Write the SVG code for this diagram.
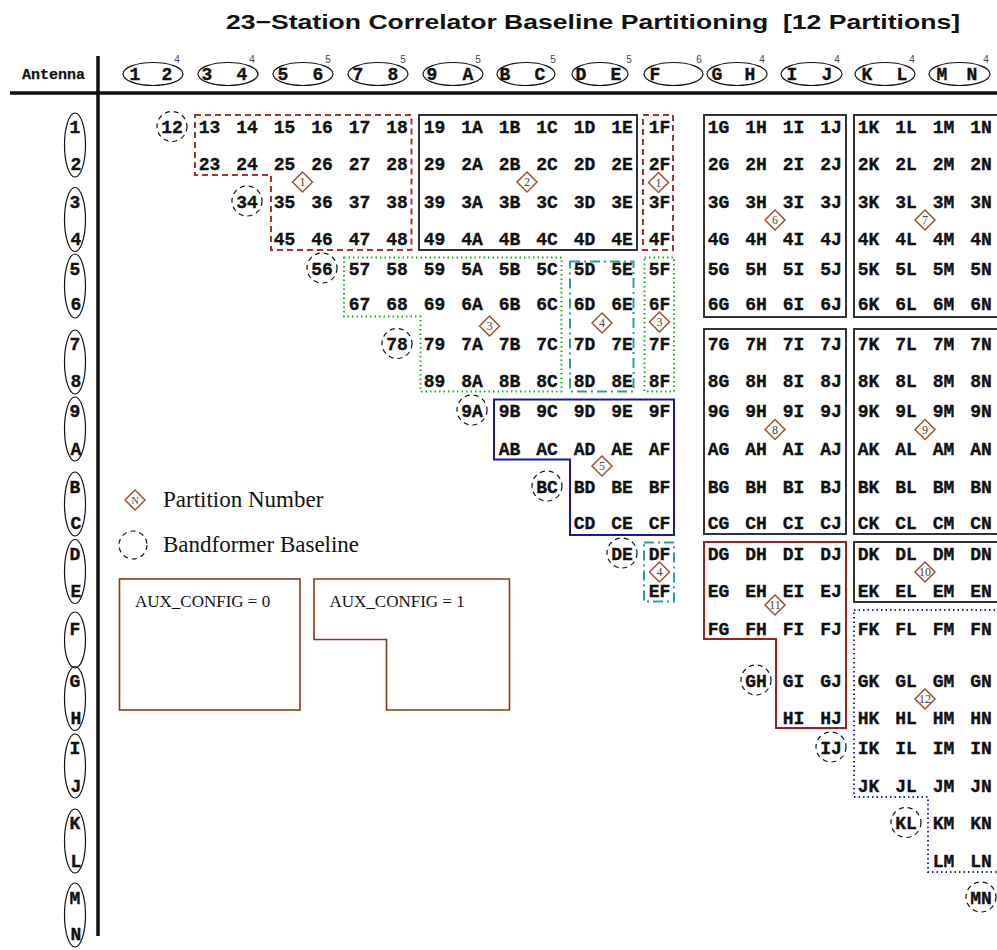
<svg xmlns="http://www.w3.org/2000/svg" xmlns:xlink="http://www.w3.org/1999/xlink" width="997" height="950" viewBox="0 0 997 950">
<style>
text{font-family:"Liberation Mono","Courier New",monospace;font-weight:bold;font-size:18px;fill:#111;stroke:#111;stroke-width:0.35}
.c text,text.c{text-anchor:middle}
.sup{font-family:"Liberation Sans",Arial,sans-serif;font-weight:normal;font-size:10px;fill:#444;stroke:none}
.ser{font-family:"Liberation Serif","Times New Roman",serif;font-weight:normal;fill:#111;stroke:none}
.dn{font-family:"Liberation Serif","Times New Roman",serif;font-weight:normal;font-size:12px;fill:#444;stroke:none;text-anchor:middle}
.el{fill:none;stroke:#111;stroke-width:1.2}
.bf{fill:none;stroke:#111;stroke-width:1.2;stroke-dasharray:5 4}
.dm{fill:#fff;stroke:#a0522d;stroke-width:1.5}
.p-red{fill:none;stroke:#a83232;stroke-width:2;stroke-dasharray:6 4}
.p-blk{fill:none;stroke:#333;stroke-width:2}
.p-grn{fill:none;stroke:#22aa22;stroke-width:2;stroke-dasharray:1.5 3}
.p-teal{fill:none;stroke:#2a9d9d;stroke-width:2;stroke-dasharray:10 4 2 4}
.p-navy{fill:none;stroke:#1a1a99;stroke-width:2}
.p-dred{fill:none;stroke:#9b2020;stroke-width:2}
.p-blue{fill:none;stroke:#2222cc;stroke-width:2;stroke-dasharray:1.5 3}
.aux{fill:none;stroke:#8b3a0f;stroke-width:1.6}
</style>
<defs>
<path id="dia" d="M0,-10L10,0L0,10L-10,0Z" class="dm"/>
</defs>
<rect width="997" height="950" fill="#fff"/>
<text x="226" y="29" textLength="734" lengthAdjust="spacingAndGlyphs" style="font-family:'Liberation Sans',Arial,sans-serif;font-size:21px;font-weight:bold;stroke:none">23−Station Correlator Baseline Partitioning &#160;[12 Partitions]</text>

<g id="axes">
<line x1="10" y1="93" x2="997" y2="93" stroke="#111" stroke-width="3.5"/>
<line x1="98" y1="56" x2="98" y2="936" stroke="#111" stroke-width="3.5"/>
<text x="22" y="79" style="font-size:15px;stroke-width:0.25">Antenna</text>
</g>

<g id="header" class="c">
<ellipse class="el" cx="153" cy="74" rx="30" ry="11.5"/><text x="135" y="80">1</text><text x="167" y="80">2</text><text class="sup" x="177" y="63">4</text>
<ellipse class="el" cx="228" cy="74" rx="30" ry="11.5"/><text x="207" y="80">3</text><text x="242" y="80">4</text><text class="sup" x="252" y="63">4</text>
<ellipse class="el" cx="303" cy="74" rx="30" ry="11.5"/><text x="283" y="80">5</text><text x="318" y="80">6</text><text class="sup" x="328" y="63">5</text>
<ellipse class="el" cx="378" cy="74" rx="30" ry="11.5"/><text x="358" y="80">7</text><text x="393" y="80">8</text><text class="sup" x="403" y="63">5</text>
<ellipse class="el" cx="453" cy="74" rx="30" ry="11.5"/><text x="432" y="80">9</text><text x="468" y="80">A</text><text class="sup" x="478" y="63">5</text>
<ellipse class="el" cx="526" cy="74" rx="29" ry="11.5"/><text x="505" y="80">B</text><text x="540" y="80">C</text><text class="sup" x="553" y="63">5</text>
<ellipse class="el" cx="600" cy="74" rx="28" ry="11.5"/><text x="581" y="80">D</text><text x="616" y="80">E</text><text class="sup" x="629" y="63">5</text>
<ellipse class="el" cx="673.5" cy="74" rx="29.5" ry="11.5"/><text x="655" y="80">F</text><text class="sup" x="699" y="63">6</text>
<ellipse class="el" cx="737" cy="74" rx="30" ry="11.5"/><text x="717" y="80">G</text><text x="750" y="80">H</text><text class="sup" x="762" y="63">4</text>
<ellipse class="el" cx="811.5" cy="74" rx="30.5" ry="11.5"/><text x="792" y="80">I</text><text x="827" y="80">J</text><text class="sup" x="837" y="63">4</text>
<ellipse class="el" cx="885" cy="74" rx="30" ry="11.5"/><text x="867" y="80">K</text><text x="902" y="80">L</text><text class="sup" x="912" y="63">4</text>
<ellipse class="el" cx="959.5" cy="74" rx="30.5" ry="11.5"/><text x="942" y="80">M</text><text x="972" y="80">N</text><text class="sup" x="986" y="63">4</text>
</g>

<g id="rowlabels" class="c">
<ellipse class="el" cx="75" cy="145" rx="10.5" ry="32"/><text x="75" y="133">1</text><text x="76" y="169.5">2</text>
<ellipse class="el" cx="75" cy="219.5" rx="10.5" ry="32"/><text x="75" y="207.5">3</text><text x="76" y="244.5">4</text>
<ellipse class="el" cx="75" cy="286" rx="10.5" ry="32"/><text x="75" y="274.5">5</text><text x="76" y="310">6</text>
<ellipse class="el" cx="75" cy="362" rx="10.5" ry="32"/><text x="75" y="350">7</text><text x="76" y="387">8</text>
<ellipse class="el" cx="75" cy="429" rx="10.5" ry="32"/><text x="75" y="416.5">9</text><text x="76" y="455">A</text>
<ellipse class="el" cx="75" cy="504" rx="10.5" ry="32"/><text x="75" y="492.5">B</text><text x="76" y="529">C</text>
<ellipse class="el" cx="75" cy="571.5" rx="10.5" ry="32"/><text x="75" y="559.5">D</text><text x="76" y="596.5">E</text>
<ellipse class="el" cx="75" cy="640" rx="10.5" ry="28"/><text x="75" y="634.5">F</text>
<ellipse class="el" cx="75" cy="698.5" rx="10.5" ry="32"/><text x="75" y="686.5">G</text><text x="76" y="723.5">H</text>
<ellipse class="el" cx="75" cy="766" rx="10.5" ry="32"/><text x="75" y="753.5">I</text><text x="76" y="791.5">J</text>
<ellipse class="el" cx="75" cy="841" rx="10.5" ry="32"/><text x="75" y="829">K</text><text x="76" y="866.5">L</text>
<ellipse class="el" cx="75" cy="915" rx="10.5" ry="32"/><text x="75" y="903.5">M</text><text x="76" y="939.5">N</text>
</g>

<g id="partitions">
<g id="partition-1"><path class="p-red" d="M195,115H411.5V250H271V175H195Z"/><rect class="p-red" x="643" y="115" width="30" height="135"/></g>
<g id="partition-2"><rect class="p-blk" x="419" y="115" width="218" height="135"/></g>
<g id="partition-3"><path class="p-grn" d="M344,257.5H561.5V391.5H420.5V316.5H344Z"/><rect class="p-grn" x="644.5" y="257.5" width="29.5" height="134"/></g>
<g id="partition-4"><rect class="p-teal" x="570" y="261.5" width="63.5" height="130"/><rect class="p-teal" x="644" y="542.5" width="30" height="59"/></g>
<g id="partition-5"><path class="p-navy" d="M494,399.5H674V535H570V459.5H494Z"/></g>
<g id="partition-6"><rect class="p-blk" x="704" y="115" width="142" height="202"/></g>
<g id="partition-7"><rect class="p-blk" x="854" y="115" width="144" height="202"/></g>
<g id="partition-8"><rect class="p-blk" x="704" y="329" width="142" height="205"/></g>
<g id="partition-9"><rect class="p-blk" x="854" y="329" width="144" height="205"/></g>
<g id="partition-10"><rect class="p-blk" x="854" y="542" width="144" height="60"/></g>
<g id="partition-11"><path class="p-dred" d="M704,542H846V728H776V639H704Z"/></g>
<g id="partition-12"><path class="p-blue" d="M854,610H999V872H928V797H854Z"/></g>
</g>

<g id="cells" class="c">
<g id="row-1" transform="translate(0,133)"><circle class="bf" cx="172" cy="-6.5" r="15"/><text x="172">12</text><text x="209.5">13</text><text x="247">14</text><text x="284.5">15</text><text x="322">16</text><text x="359.5">17</text><text x="397">18</text><text x="434.5">19</text><text x="472">1A</text><text x="509.5">1B</text><text x="547">1C</text><text x="584.5">1D</text><text x="622">1E</text><text x="659.5">1F</text><text x="718.5">1G</text><text x="756">1H</text><text x="793.5">1I</text><text x="831">1J</text><text x="868.5">1K</text><text x="906">1L</text><text x="943.5">1M</text><text x="981">1N</text></g>
<g id="row-2" transform="translate(0,169.5)"><text x="209.5">23</text><text x="247">24</text><text x="284.5">25</text><text x="322">26</text><text x="359.5">27</text><text x="397">28</text><text x="434.5">29</text><text x="472">2A</text><text x="509.5">2B</text><text x="547">2C</text><text x="584.5">2D</text><text x="622">2E</text><text x="659.5">2F</text><text x="718.5">2G</text><text x="756">2H</text><text x="793.5">2I</text><text x="831">2J</text><text x="868.5">2K</text><text x="906">2L</text><text x="943.5">2M</text><text x="981">2N</text></g>
<g id="row-3" transform="translate(0,207.5)"><circle class="bf" cx="247" cy="-6.5" r="15"/><text x="247">34</text><text x="284.5">35</text><text x="322">36</text><text x="359.5">37</text><text x="397">38</text><text x="434.5">39</text><text x="472">3A</text><text x="509.5">3B</text><text x="547">3C</text><text x="584.5">3D</text><text x="622">3E</text><text x="659.5">3F</text><text x="718.5">3G</text><text x="756">3H</text><text x="793.5">3I</text><text x="831">3J</text><text x="868.5">3K</text><text x="906">3L</text><text x="943.5">3M</text><text x="981">3N</text></g>
<g id="row-4" transform="translate(0,244.5)"><text x="284.5">45</text><text x="322">46</text><text x="359.5">47</text><text x="397">48</text><text x="434.5">49</text><text x="472">4A</text><text x="509.5">4B</text><text x="547">4C</text><text x="584.5">4D</text><text x="622">4E</text><text x="659.5">4F</text><text x="718.5">4G</text><text x="756">4H</text><text x="793.5">4I</text><text x="831">4J</text><text x="868.5">4K</text><text x="906">4L</text><text x="943.5">4M</text><text x="981">4N</text></g>
<g id="row-5" transform="translate(0,274.5)"><circle class="bf" cx="322" cy="-6.5" r="15"/><text x="322">56</text><text x="359.5">57</text><text x="397">58</text><text x="434.5">59</text><text x="472">5A</text><text x="509.5">5B</text><text x="547">5C</text><text x="584.5">5D</text><text x="622">5E</text><text x="659.5">5F</text><text x="718.5">5G</text><text x="756">5H</text><text x="793.5">5I</text><text x="831">5J</text><text x="868.5">5K</text><text x="906">5L</text><text x="943.5">5M</text><text x="981">5N</text></g>
<g id="row-6" transform="translate(0,310)"><text x="359.5">67</text><text x="397">68</text><text x="434.5">69</text><text x="472">6A</text><text x="509.5">6B</text><text x="547">6C</text><text x="584.5">6D</text><text x="622">6E</text><text x="659.5">6F</text><text x="718.5">6G</text><text x="756">6H</text><text x="793.5">6I</text><text x="831">6J</text><text x="868.5">6K</text><text x="906">6L</text><text x="943.5">6M</text><text x="981">6N</text></g>
<g id="row-7" transform="translate(0,350)"><circle class="bf" cx="397" cy="-6.5" r="15"/><text x="397">78</text><text x="434.5">79</text><text x="472">7A</text><text x="509.5">7B</text><text x="547">7C</text><text x="584.5">7D</text><text x="622">7E</text><text x="659.5">7F</text><text x="718.5">7G</text><text x="756">7H</text><text x="793.5">7I</text><text x="831">7J</text><text x="868.5">7K</text><text x="906">7L</text><text x="943.5">7M</text><text x="981">7N</text></g>
<g id="row-8" transform="translate(0,387)"><text x="434.5">89</text><text x="472">8A</text><text x="509.5">8B</text><text x="547">8C</text><text x="584.5">8D</text><text x="622">8E</text><text x="659.5">8F</text><text x="718.5">8G</text><text x="756">8H</text><text x="793.5">8I</text><text x="831">8J</text><text x="868.5">8K</text><text x="906">8L</text><text x="943.5">8M</text><text x="981">8N</text></g>
<g id="row-9" transform="translate(0,416.5)"><circle class="bf" cx="472" cy="-6.5" r="15"/><text x="472">9A</text><text x="509.5">9B</text><text x="547">9C</text><text x="584.5">9D</text><text x="622">9E</text><text x="659.5">9F</text><text x="718.5">9G</text><text x="756">9H</text><text x="793.5">9I</text><text x="831">9J</text><text x="868.5">9K</text><text x="906">9L</text><text x="943.5">9M</text><text x="981">9N</text></g>
<g id="row-A" transform="translate(0,455)"><text x="509.5">AB</text><text x="547">AC</text><text x="584.5">AD</text><text x="622">AE</text><text x="659.5">AF</text><text x="718.5">AG</text><text x="756">AH</text><text x="793.5">AI</text><text x="831">AJ</text><text x="868.5">AK</text><text x="906">AL</text><text x="943.5">AM</text><text x="981">AN</text></g>
<g id="row-B" transform="translate(0,492.5)"><circle class="bf" cx="547" cy="-6.5" r="15"/><text x="547">BC</text><text x="584.5">BD</text><text x="622">BE</text><text x="659.5">BF</text><text x="718.5">BG</text><text x="756">BH</text><text x="793.5">BI</text><text x="831">BJ</text><text x="868.5">BK</text><text x="906">BL</text><text x="943.5">BM</text><text x="981">BN</text></g>
<g id="row-C" transform="translate(0,529)"><text x="584.5">CD</text><text x="622">CE</text><text x="659.5">CF</text><text x="718.5">CG</text><text x="756">CH</text><text x="793.5">CI</text><text x="831">CJ</text><text x="868.5">CK</text><text x="906">CL</text><text x="943.5">CM</text><text x="981">CN</text></g>
<g id="row-D" transform="translate(0,559.5)"><circle class="bf" cx="622" cy="-6.5" r="15"/><text x="622">DE</text><text x="659.5">DF</text><text x="718.5">DG</text><text x="756">DH</text><text x="793.5">DI</text><text x="831">DJ</text><text x="868.5">DK</text><text x="906">DL</text><text x="943.5">DM</text><text x="981">DN</text></g>
<g id="row-E" transform="translate(0,596.5)"><text x="659.5">EF</text><text x="718.5">EG</text><text x="756">EH</text><text x="793.5">EI</text><text x="831">EJ</text><text x="868.5">EK</text><text x="906">EL</text><text x="943.5">EM</text><text x="981">EN</text></g>
<g id="row-F" transform="translate(0,634.5)"><text x="718.5">FG</text><text x="756">FH</text><text x="793.5">FI</text><text x="831">FJ</text><text x="868.5">FK</text><text x="906">FL</text><text x="943.5">FM</text><text x="981">FN</text></g>
<g id="row-G" transform="translate(0,686.5)"><circle class="bf" cx="756" cy="-6.5" r="15"/><text x="756">GH</text><text x="793.5">GI</text><text x="831">GJ</text><text x="868.5">GK</text><text x="906">GL</text><text x="943.5">GM</text><text x="981">GN</text></g>
<g id="row-H" transform="translate(0,723.5)"><text x="793.5">HI</text><text x="831">HJ</text><text x="868.5">HK</text><text x="906">HL</text><text x="943.5">HM</text><text x="981">HN</text></g>
<g id="row-I" transform="translate(0,753.5)"><circle class="bf" cx="831" cy="-6.5" r="15"/><text x="831">IJ</text><text x="868.5">IK</text><text x="906">IL</text><text x="943.5">IM</text><text x="981">IN</text></g>
<g id="row-J" transform="translate(0,791.5)"><text x="868.5">JK</text><text x="906">JL</text><text x="943.5">JM</text><text x="981">JN</text></g>
<g id="row-K" transform="translate(0,829)"><circle class="bf" cx="906" cy="-6.5" r="15"/><text x="906">KL</text><text x="943.5">KM</text><text x="981">KN</text></g>
<g id="row-L" transform="translate(0,866.5)"><text x="943.5">LM</text><text x="981">LN</text></g>
<g id="row-M" transform="translate(0,903.5)"><circle class="bf" cx="981" cy="-6.5" r="15"/><text x="981">MN</text></g>
</g>

<g id="partition-labels">
<use href="#dia" x="302.5" y="182"/><text class="dn" x="302.5" y="186">1</text>
<use href="#dia" x="658.5" y="182.5"/><text class="dn" x="658.5" y="186.5">1</text>
<use href="#dia" x="527" y="182"/><text class="dn" x="527" y="186">2</text>
<use href="#dia" x="489.5" y="326"/><text class="dn" x="489.5" y="330">3</text>
<use href="#dia" x="659.5" y="322"/><text class="dn" x="659.5" y="326">3</text>
<use href="#dia" x="602" y="323"/><text class="dn" x="602" y="327">4</text>
<use href="#dia" x="659.5" y="572"/><text class="dn" x="659.5" y="576">4</text>
<use href="#dia" x="602" y="466"/><text class="dn" x="602" y="470">5</text>
<use href="#dia" x="775" y="220"/><text class="dn" x="775" y="224">6</text>
<use href="#dia" x="925" y="220"/><text class="dn" x="925" y="224">7</text>
<use href="#dia" x="775" y="429.5"/><text class="dn" x="775" y="433.5">8</text>
<use href="#dia" x="925" y="429.5"/><text class="dn" x="925" y="433.5">9</text>
<use href="#dia" x="925" y="572"/><text class="dn" x="925" y="576">10</text>
<use href="#dia" x="775" y="605"/><text class="dn" x="775" y="609">11</text>
<use href="#dia" x="925" y="699"/><text class="dn" x="925" y="703">12</text>
</g>

<g id="legend">
<use href="#dia" x="135" y="500"/><text class="dn" x="135" y="504" style="font-size:10px">N</text>
<text class="ser" x="163" y="507" style="font-size:23px">Partition Number</text>
<circle class="bf" cx="133" cy="545" r="14"/>
<text class="ser" x="163" y="552" style="font-size:23px">Bandformer Baseline</text>
<g id="aux0"><rect class="aux" x="119.5" y="579" width="180.5" height="131"/><text class="ser" x="135" y="607" style="font-size:17px">AUX_CONFIG = 0</text></g>
<g id="aux1"><path class="aux" d="M314,579H509.5V710H386.5V639.5H314Z"/><text class="ser" x="329.5" y="607" style="font-size:17px">AUX_CONFIG = 1</text></g>
</g>
<g id="connectors"/>
</svg>
